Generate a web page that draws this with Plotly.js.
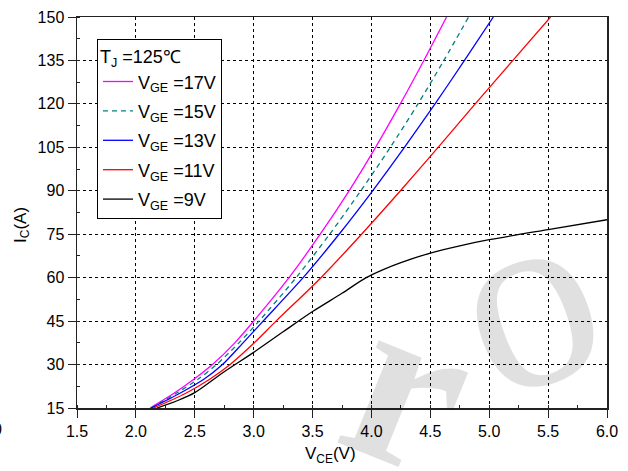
<!DOCTYPE html>
<html>
<head>
<meta charset="utf-8">
<script src="https://cdn.plot.ly/plotly-3.0.1.min.js"></script>
<style>html,body{margin:0;padding:0;background:#fff;}#chart{width:628px;height:471px;}</style>
</head>
<body>
<div id="chart"></div>
<script>
// ---- data (V_CE in V, I_C in A) ----
const seriesNames = ["V<sub>GE</sub> =17V", "V<sub>GE</sub> =15V", "V<sub>GE</sub> =13V", "V<sub>GE</sub> =11V", "V<sub>GE</sub> =9V"];
const vge17_x = [2.12, 2.32, 2.495, 2.65, 2.84, 3.0, 3.3, 3.565, 3.81, 4.035, 4.245, 4.445, 4.638];
const vge17_y = [15, 20, 25, 30, 37.5, 45, 60, 75, 90, 105, 120, 135, 150];
const vge15_x = [2.13, 2.34, 2.53, 2.685, 2.875, 3.045, 3.36, 3.645, 3.91, 4.16, 4.395, 4.615, 4.825];
const vge15_y = [15, 20, 25, 30, 37.5, 45, 60, 75, 90, 105, 120, 135, 150];
const vge13_x = [2.13, 2.37, 2.58, 2.735, 2.91, 3.08, 3.42, 3.725, 4.01, 4.28, 4.54, 4.79, 5.035];
const vge13_y = [15, 20, 25, 30, 37.5, 45, 60, 75, 90, 105, 120, 135, 150];
const vge11_x = [2.15, 2.42, 2.63, 2.8, 3.005, 3.19, 3.571, 3.916, 4.246, 4.566, 4.881, 5.201, 5.521];
const vge11_y = [15, 20, 25, 30, 37.5, 45, 60, 75, 90, 105, 120, 135, 150];
const vge9_x = [2.18, 2.35, 2.5, 2.75, 3.0, 3.25, 3.5, 3.75, 3.955, 4.1, 4.25, 4.5, 4.75, 5.0, 5.5, 6.0];
const vge9_y = [15, 17.5, 20.3, 27.5, 34.2, 41.3, 48.3, 54.6, 60, 62.8, 65.2, 68.5, 71, 73.1, 76.6, 80];
const xTickVals = [1.5, 2.0, 2.5, 3.0, 3.5, 4.0, 4.5, 5.0, 5.5, 6.0];
const yTickVals = [15, 30, 45, 60, 75, 90, 105, 120, 135, 150];
const legendTitle = "T<sub>J</sub> =125℃";
const xTitle = "V<sub>CE</sub>(V)";
const yTitle = "I<sub>C</sub>(A)";

const FONT = "Liberation Sans, Arial, sans-serif";
const xs = [vge17_x, vge15_x, vge13_x, vge11_x, vge9_x];
const ys = [vge17_y, vge15_y, vge13_y, vge11_y, vge9_y];
const colors = ["#ff00ff", "#008080", "#0000ff", "#ff0000", "#000000"];
const dashes = ["solid", "5px,4px", "solid", "solid", "solid"];

const traces = xs.map((x, i) => ({
  type: "scatter", mode: "lines", x: x, y: ys[i], name: seriesNames[i],
  legendgroup: "g" + i,
  line: {color: colors[i], width: 1.3, dash: dashes[i], shape: "spline", smoothing: 0.8}
}));

const axisCommon = {
  showline: true, mirror: true, linecolor: "#222", linewidth: 1.5,
  ticks: "outside", ticklen: 8, tickwidth: 1, tickcolor: "#222",
  showgrid: true, gridcolor: "#000", gridwidth: 1, griddash: "dot",
  zeroline: false, tickfont: {family: FONT, size: 16, color: "#000"}
};

const WM = "rgba(0,0,0,0.12)";
const layout = {
  width: 628, height: 471,
  margin: {l: 77, r: 21, t: 17, b: 63},
  paper_bgcolor: "#fff", plot_bgcolor: "#fff",
  font: {family: FONT, color: "#000"},
  showlegend: true,
  legend: {
    x: 0.0377, y: 0.944, xanchor: "left", yanchor: "top",
    bgcolor: "#fff", bordercolor: "#000", borderwidth: 1,
    font: {family: FONT, size: 18, color: "#000"},
    title: {text: legendTitle, font: {family: FONT, size: 18, color: "#000"}},
    tracegroupgap: 3, itemwidth: 30
  },
  xaxis: Object.assign({}, axisCommon, {
    range: [1.5, 6.0], tickvals: xTickVals, ticktext: xTickVals.map(v => v.toFixed(1)),
    minor: {dtick: 0.25, tick0: 1.5, ticks: "inside", ticklen: 3, tickcolor: "#222", showgrid: false}
  }),
  yaxis: Object.assign({}, axisCommon, {
    range: [15, 150], tickvals: yTickVals, ticktext: yTickVals.map(v => String(v)),
    minor: {dtick: 7.5, tick0: 15, ticks: "inside", ticklen: 3, tickcolor: "#222", showgrid: false}
  }),
  annotations: [
    {text: xTitle, xref: "paper", yref: "paper", x: 0.479, y: -0.12, xanchor: "center", yanchor: "middle",
     showarrow: false, font: {family: FONT, size: 17, color: "#000"}},
    {text: yTitle, xref: "paper", yref: "paper", x: -0.104, y: 0.468, xanchor: "center", yanchor: "middle",
     textangle: -90, showarrow: false, font: {family: FONT, size: 17, color: "#000"}},
    {text: "0", xref: "paper", yref: "paper", x: -0.137, y: -0.054, xanchor: "right", yanchor: "middle",
     showarrow: false, font: {family: FONT, size: 16, color: "#000"}},
    {text: "o", xref: "paper", yref: "paper", x: 0.847, y: 0.285, xanchor: "center", yanchor: "middle",
     textangle: -20, showarrow: false, font: {family: "Liberation Serif, serif", size: 262, color: WM}},
    {text: "<b>r</b>", xref: "paper", yref: "paper", x: 0.632, y: 0.059, xanchor: "center", yanchor: "middle",
     textangle: 22, showarrow: false, font: {family: "Liberation Serif, serif", size: 240, color: WM}}
  ]
};

Plotly.newPlot("chart", traces, layout, {displayModeBar: false, staticPlot: true});
</script>
</body>
</html>
